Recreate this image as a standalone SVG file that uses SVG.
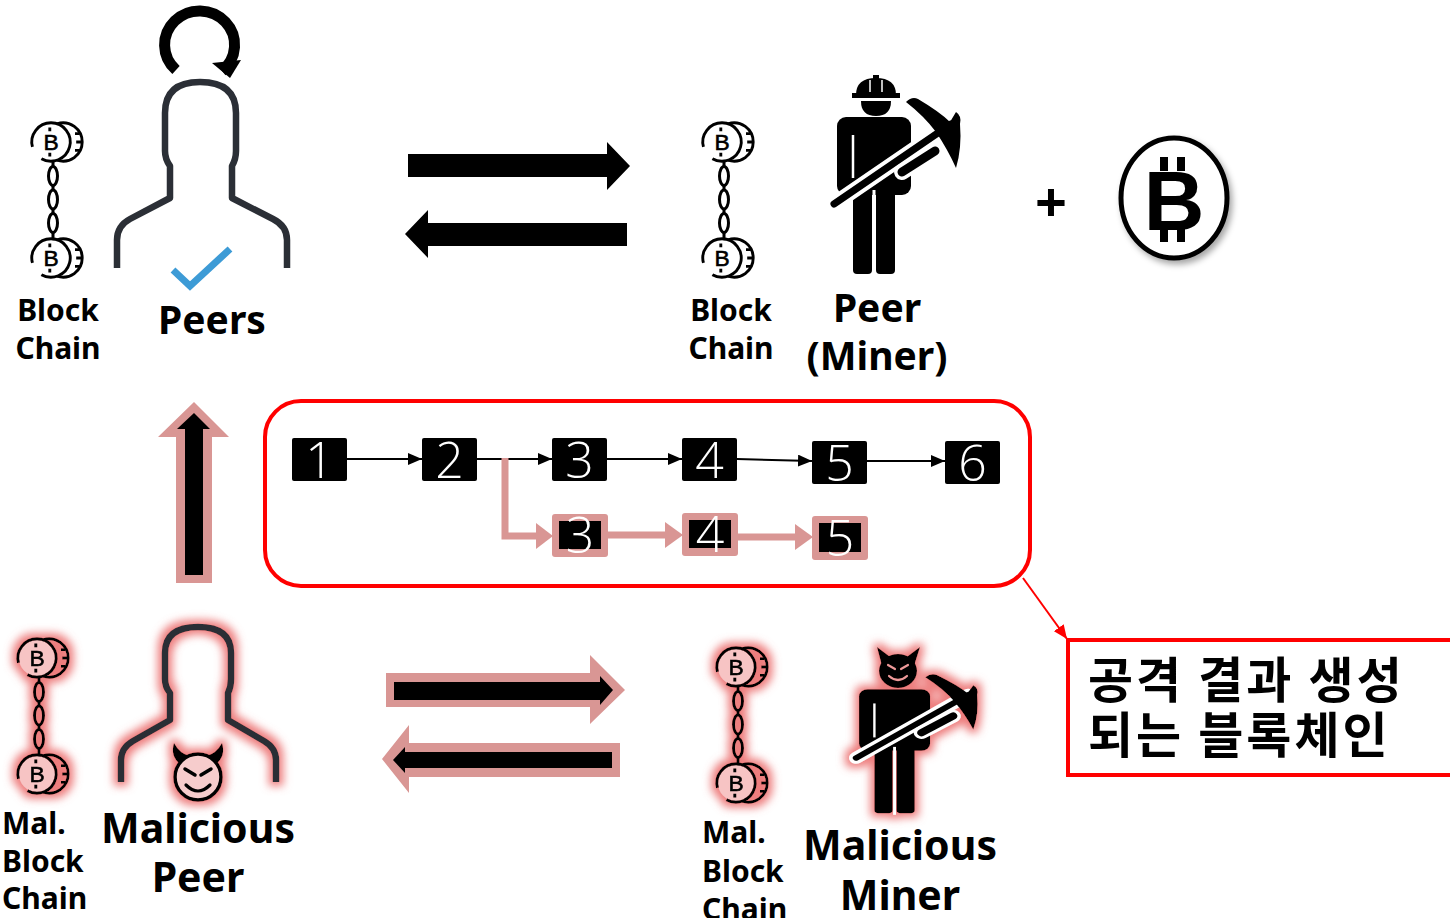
<svg xmlns="http://www.w3.org/2000/svg" xmlns:xlink="http://www.w3.org/1999/xlink" width="1450" height="918" viewBox="0 0 1450 918">
  <style>
    .lbl { font-family: "Noto Sans", "Open Sans", "Liberation Sans", sans-serif; font-weight: 700; fill: #000; }
    .num { font-family: "Open Sans", "Noto Sans", "Liberation Sans", sans-serif; font-weight: 300; fill: #fff; font-size: 50px; text-anchor: middle; }
    .kr { font-family: "Noto Sans CJK KR", "Noto Sans CJK SC", sans-serif; font-weight: 700; font-size: 49px; letter-spacing: 3px; fill: #000; }
    .blk { fill: #000; }
    .pinkbox { fill: #d99694; }
    .link { stroke: #000; stroke-width: 2; fill: none; }
    .plink { stroke: #d99694; stroke-width: 7; fill: none; }
    .person { fill: none; stroke: #2b2f36; stroke-width: 6.5; stroke-linejoin: round; stroke-linecap: butt; }
    .coinline { fill: none; stroke: #000; stroke-width: 2.4; }
    .chainline { fill: none; stroke: #000; stroke-width: 3; }
  </style>
  <defs>
    <marker id="ahBlack" viewBox="0 0 14 12" refX="14" refY="6" markerWidth="14" markerHeight="12" markerUnits="userSpaceOnUse" orient="auto">
      <path d="M0,0 L14,6 L0,12 Z" fill="#000"/>
    </marker>
    <marker id="ahRed" viewBox="0 0 14 12" refX="14" refY="6" markerWidth="14" markerHeight="12" markerUnits="userSpaceOnUse" orient="auto">
      <path d="M0,0 L14,6 L0,12 Z" fill="#ff0000"/>
    </marker>
    <filter id="glow" x="-30%" y="-30%" width="160%" height="160%">
      <feMorphology in="SourceAlpha" operator="dilate" radius="4" result="fat"/>
      <feFlood flood-color="#ec7070" flood-opacity="0.9"/>
      <feComposite in2="fat" operator="in"/>
      <feGaussianBlur stdDeviation="4.5" result="halo"/>
      <feMerge>
        <feMergeNode in="halo"/>
        <feMergeNode in="SourceGraphic"/>
      </feMerge>
    </filter>
    <filter id="shadow" x="-20%" y="-20%" width="150%" height="150%">
      <feDropShadow dx="3" dy="4" stdDeviation="3" flood-color="#000" flood-opacity="0.35"/>
    </filter>

    <!-- one coin of the chain icon, centred on 0,0 -->
    <g id="coin">
      <path class="coinline" d="M5,-15.2 A16,16 0 1 1 5,15.2"/>
      <path class="coinline" d="M20,-7 h4 M21,0 h5 M20,7 h4"/>
      <circle r="15" fill="currentColor"/>
      <path class="coinline" d="M-15.45,4.14 A16,16 0 1 1 -8,13.86"/>
      <text x="0" y="6.5" text-anchor="middle" font-family="Liberation Sans, sans-serif" font-size="19" fill="#000" stroke="#000" stroke-width="0.5">B</text>
      <path class="coinline" stroke-width="2" d="M-1,-12 v3 M-1,9 v3"/>
    </g>
    <!-- chain icon: two coins joined by links -->
    <g id="chain">
      <path class="chainline" d="M2,16 v8 M2,44 v5 M2,67 v5 M2,91 v9"/>
      <ellipse class="chainline" cx="2" cy="34" rx="4.5" ry="9.5"/>
      <ellipse class="chainline" cx="2" cy="57.5" rx="4.5" ry="9.5"/>
      <ellipse class="chainline" cx="2" cy="81" rx="4.5" ry="9.5"/>
      <use xlink:href="#coin" transform="scale(1.2)"/>
      <use xlink:href="#coin" transform="translate(0,116) scale(1.2)"/>
    </g>
    <!-- miner body with pickaxe (no head) -->
    <g id="minerBody">
      <rect x="837" y="117" width="74" height="78" rx="9" fill="#000"/>
      <rect x="853" y="188" width="19" height="86" rx="4" fill="#000"/>
      <rect x="876" y="188" width="19" height="86" rx="4" fill="#000"/>
      <path d="M853,135 L853,178" stroke="#fff" stroke-width="2.5"/>
      <path d="M874,190 V276" stroke="#fff" stroke-width="3"/>
      <line x1="834" y1="204" x2="951" y2="124" stroke="#fff" stroke-width="15" stroke-linecap="round"/>
      <line x1="834" y1="204" x2="951" y2="124" stroke="#000" stroke-width="7" stroke-linecap="round"/>
      <line x1="902" y1="172" x2="935" y2="151" stroke="#fff" stroke-width="16" stroke-linecap="round"/>
      <line x1="902" y1="172" x2="935" y2="151" stroke="#000" stroke-width="9" stroke-linecap="round"/>
      <path d="M906,102 Q912,96 918,99 Q940,112 950,122 L956,112 Q962,116 960,124 Q962,148 956,168 Q948,150 936,132 Q924,116 906,102 Z" fill="#000"/>
    </g>
  </defs>

  <rect width="1450" height="918" fill="#fff"/>

  <!-- connectors -->
  <g id="connectors">
    <!-- exchange arrows, honest side -->
    <polygon class="blk" points="408,154 607,154 607,142 630,166 607,190 607,177 408,177"/>
    <polygon class="blk" points="627,223 428,223 428,210 405,234 428,258 428,246 627,246"/>
    <!-- exchange arrows, malicious side -->
    <polygon class="pinkbox" points="386,673 590,673 590,655 625,690 590,724 590,707 386,707"/>
    <polygon class="blk" points="394,682 600,682 600,676 613,690 600,705 600,700 394,700"/>
    <polygon class="pinkbox" points="620,743 409,743 409,725 382,759 409,793 409,777 620,777"/>
    <polygon class="blk" points="612,752 405,752 405,747 393,760 405,773 405,768 612,768"/>
    <!-- upward arrow from malicious peer -->
    <polygon class="pinkbox" points="176,583 176,437 158,437 194,402 229,437 212,437 212,583"/>
    <polygon class="blk" points="185,575 185,429 177,429 194,413 210,429 203,429 203,575"/>
    <!-- honest chain links -->
    <line class="link" x1="347" y1="459" x2="422" y2="459" marker-end="url(#ahBlack)"/>
    <line class="link" x1="477" y1="459" x2="552" y2="459" marker-end="url(#ahBlack)"/>
    <line class="link" x1="607" y1="459" x2="682" y2="459" marker-end="url(#ahBlack)"/>
    <line class="link" x1="737" y1="459" x2="812" y2="461" marker-end="url(#ahBlack)"/>
    <line class="link" x1="867" y1="461" x2="945" y2="461" marker-end="url(#ahBlack)"/>
    <!-- fork links -->
    <path class="plink" d="M505,458 V536 H537"/>
    <polygon class="pinkbox" points="536,523 553,536 536,549"/>
    <line class="plink" x1="607" y1="535" x2="666" y2="535"/>
    <polygon class="pinkbox" points="665,522 683,535 665,548"/>
    <line class="plink" x1="737" y1="537" x2="796" y2="537"/>
    <polygon class="pinkbox" points="795,524 813,537 795,550"/>
    <!-- callout pointer -->
    <line x1="1023" y1="578" x2="1067" y2="639" stroke="#ff0000" stroke-width="2" marker-end="url(#ahRed)"/>
  </g>

  <!-- honest peer -->
  <g id="peer">
    <path d="M176,70 A35,34 0 1 1 222,71" fill="none" stroke="#000" stroke-width="11"/>
    <polygon points="212,63 241,60 230,78" fill="#000"/>
    <path class="person" d="M117,268 V240 Q117,226 130,219 L170,198 V166 Q165,159 165,151 V113 Q165,82 200,82 Q236,82 236,113 V151 Q236,159 232,166 V198 L273,219 Q287,226 287,240 V268"/>
    <path d="M173,270 L190,286 L230,249" fill="none" stroke="#3d9bd6" stroke-width="7"/>
    <text class="lbl" x="212" y="334" font-size="39" text-anchor="middle">Peers</text>
  </g>

  <g id="peer-chain" color="#fff">
    <use xlink:href="#chain" x="51" y="142"/>
    <text class="lbl" x="58" y="321" font-size="30" text-anchor="middle">Block</text>
    <text class="lbl" x="58" y="359" font-size="30" text-anchor="middle">Chain</text>
  </g>

  <!-- honest miner -->
  <g id="miner">
    <use xlink:href="#minerBody"/>
    <path d="M856,95 Q856,78 876,78 Q896,78 896,95 Z" fill="#000"/>
    <rect x="873" y="75" width="6" height="6" fill="#000"/>
    <path d="M870,80 v12 M882,80 v12" stroke="#fff" stroke-width="1.5"/>
    <rect x="852" y="93" width="48" height="5" fill="#000"/>
    <path d="M861,101 H891 Q891,116 876,116 Q861,116 861,101 Z" fill="#000"/>
    <text class="lbl" x="877" y="322" font-size="39" text-anchor="middle">Peer</text>
    <text class="lbl" x="877" y="370" font-size="39" text-anchor="middle">(Miner)</text>
  </g>

  <g id="miner-chain" color="#fff">
    <use xlink:href="#chain" x="722" y="142"/>
    <text class="lbl" x="731" y="321" font-size="30" text-anchor="middle">Block</text>
    <text class="lbl" x="731" y="359" font-size="30" text-anchor="middle">Chain</text>
  </g>

  <!-- reward -->
  <g id="reward">
    <text class="lbl" x="1051" y="222" font-size="56" text-anchor="middle">+</text>
    <g filter="url(#shadow)">
      <ellipse cx="1174" cy="198" rx="53" ry="60" fill="#fff" stroke="#000" stroke-width="5"/>
    </g>
    <rect x="1160" y="157" width="8" height="14" fill="#000"/>
    <rect x="1177" y="157" width="8" height="14" fill="#000"/>
    <rect x="1160" y="226" width="8" height="16" fill="#000"/>
    <rect x="1177" y="226" width="8" height="16" fill="#000"/>
    <text x="1174" y="230" font-family="Liberation Sans, sans-serif" font-weight="700" font-size="84" text-anchor="middle" fill="#000">B</text>
  </g>

  <!-- chain snapshot with fork -->
  <g id="fork-panel">
    <rect x="265" y="401" width="765" height="185" rx="36" fill="none" stroke="#ff0000" stroke-width="4"/>
    <g id="blocks-main">
      <rect x="292" y="438" width="55" height="43" rx="2" class="blk"/>
      <text class="num" x="319.5" y="478">1</text>
      <rect x="422" y="438" width="55" height="43" rx="2" class="blk"/>
      <text class="num" x="449.5" y="478">2</text>
      <rect x="552" y="438" width="55" height="43" rx="2" class="blk"/>
      <text class="num" x="579.5" y="478">3</text>
      <rect x="682" y="438" width="55" height="43" rx="2" class="blk"/>
      <text class="num" x="709.5" y="478">4</text>
      <rect x="812" y="441" width="55" height="43" rx="2" class="blk"/>
      <text class="num" x="839.5" y="481">5</text>
      <rect x="945" y="441" width="55" height="43" rx="2" class="blk"/>
      <text class="num" x="972.5" y="481">6</text>
    </g>
    <g id="blocks-fork">
      <rect x="552" y="514" width="56" height="43" rx="3" class="pinkbox"/>
      <rect x="559" y="521" width="42" height="28" class="blk"/>
      <text class="num" x="580" y="553">3</text>
      <rect x="682" y="513" width="56" height="43" rx="3" class="pinkbox"/>
      <rect x="689" y="520" width="42" height="28" class="blk"/>
      <text class="num" x="710" y="552">4</text>
      <rect x="812" y="516" width="56" height="44" rx="3" class="pinkbox"/>
      <rect x="819" y="523" width="42" height="29" class="blk"/>
      <text class="num" x="840" y="556">5</text>
    </g>
  </g>

  <!-- callout -->
  <g id="callout">
    <rect x="1068" y="640" width="400" height="135" fill="#fff" stroke="#ff0000" stroke-width="4"/>
    <text class="kr" x="1088" y="698">공격 결과 생성</text>
    <text class="kr" x="1088" y="753">되는 블록체인</text>
  </g>

  <!-- malicious peer -->
  <g id="mal-peer">
    <g filter="url(#glow)">
      <path class="person" d="M121,782 V760 Q121,748 133,741 L170,720 V693 Q165,687 165,679 V653 Q165,627 198,627 Q231,627 231,653 V679 Q231,687 228,693 V720 L264,741 Q276,748 276,760 V782"/>
      <path d="M180,764 Q170,756 174,743 Q180,754 190,756 Z M216,764 Q226,756 222,743 Q216,754 206,756 Z" fill="#000"/>
      <circle cx="198" cy="777" r="23" fill="#f6cccc" stroke="#000" stroke-width="3.5"/>
      <path d="M185,769 L195,775 M211,769 L201,775" stroke="#000" stroke-width="3.5" stroke-linecap="round"/>
      <path d="M186,785 Q198,797 210,785" fill="none" stroke="#000" stroke-width="3.2" stroke-linecap="round"/>
    </g>
    <text class="lbl" x="198" y="843" font-size="41" text-anchor="middle">Malicious</text>
    <text class="lbl" x="198" y="892" font-size="41" text-anchor="middle">Peer</text>
  </g>

  <g id="mal-peer-chain" color="#f7c4c4">
    <use xlink:href="#chain" x="37" y="658" filter="url(#glow)"/>
    <text class="lbl" x="2" y="834" font-size="30">Mal.</text>
    <text class="lbl" x="2" y="872" font-size="30">Block</text>
    <text class="lbl" x="2" y="909" font-size="30">Chain</text>
  </g>

  <!-- malicious miner -->
  <g id="mal-miner">
    <g filter="url(#glow)">
      <use xlink:href="#minerBody" transform="translate(860,690) scale(0.96,0.79) translate(-838,-118)"/>
      <path d="M882,666 L877,647 L893,659 Z M914,666 L920,647 L904,659 Z" fill="#000"/>
      <ellipse cx="898" cy="671" rx="19" ry="17" fill="#000"/>
      <path d="M888,665 L895,669 M908,665 L901,669" stroke="#e99" stroke-width="2.2" stroke-linecap="round"/>
      <path d="M889,676 Q898,684 907,676" fill="none" stroke="#e99" stroke-width="2.2" stroke-linecap="round"/>
    </g>
    <text class="lbl" x="900" y="860" font-size="41" text-anchor="middle">Malicious</text>
    <text class="lbl" x="900" y="910" font-size="41" text-anchor="middle">Miner</text>
  </g>

  <g id="mal-miner-chain" color="#f7c4c4">
    <use xlink:href="#chain" x="736" y="667" filter="url(#glow)"/>
    <text class="lbl" x="702" y="843" font-size="30">Mal.</text>
    <text class="lbl" x="702" y="882" font-size="30">Block</text>
    <text class="lbl" x="702" y="920" font-size="30">Chain</text>
  </g>
</svg>
